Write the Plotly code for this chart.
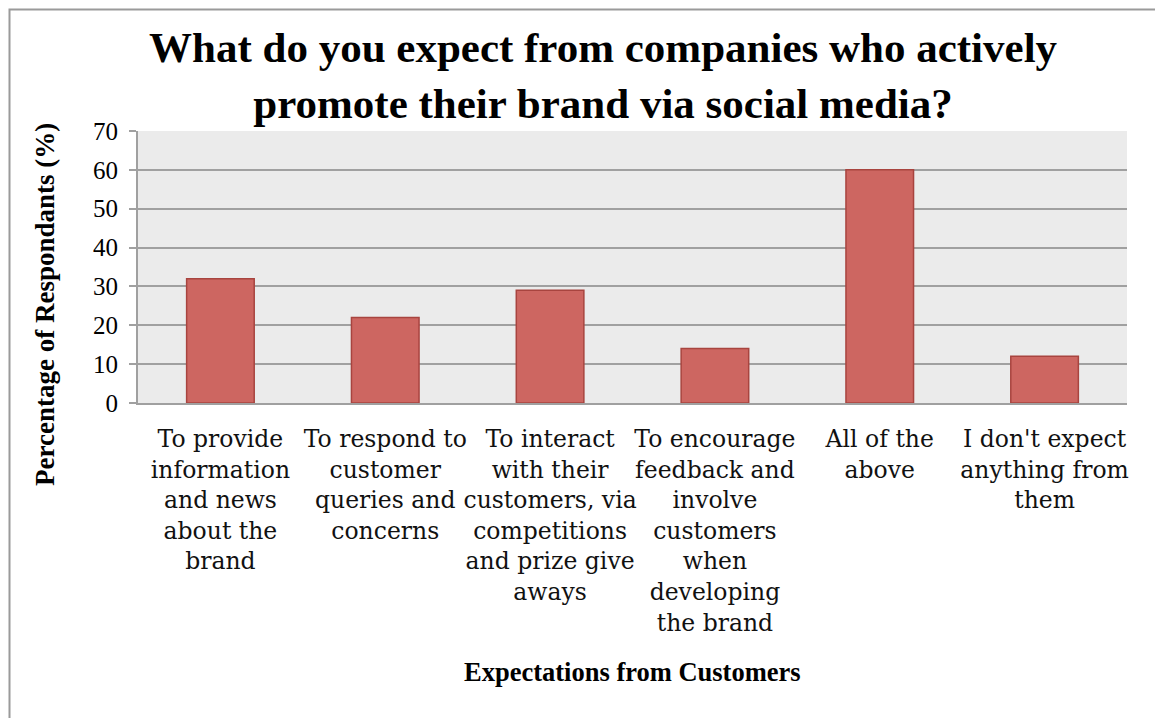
import plotly.graph_objects as go

# Survey responses: what people expect from brands active on social media
categories = [
    "To provide<br>information<br>and news<br>about the<br>brand",
    "To respond to<br>customer<br>queries and<br>concerns",
    "To interact<br>with their<br>customers, via<br>competitions<br>and prize give<br>aways",
    "To encourage<br>feedback and<br>involve<br>customers<br>when<br>developing<br>the brand",
    "All of the<br>above",
    "I don't expect<br>anything from<br>them",
]
percentages = [32, 22, 29, 14, 60, 12]
y_ticks = [0, 10, 20, 30, 40, 50, 60, 70]

W, H = 1155, 718
L, R, T, B = 138, 28, 131, 315
pw, ph = W - L - R, H - T - B

def px_x(x):
    return (x - L) / pw

def px_y(y):
    return (H - B - y) / ph

fig = go.Figure(
    go.Bar(
        x=categories,
        y=percentages,
        marker=dict(color="#CD6661", line=dict(color="#A8443F", width=1.5)),
        width=0.41,
    )
)

fig.update_layout(
    width=W,
    height=H,
    margin=dict(l=L, r=R, t=T, b=B),
    paper_bgcolor="white",
    plot_bgcolor="#EBEBEB",
    showlegend=False,
    font=dict(family="Liberation Serif", color="black"),
    annotations=[
        dict(
            text="<b>What do you expect from companies who actively<br>promote their brand via social media?</b>",
            x=px_x(603), y=px_y(75), xref="paper", yref="paper",
            xanchor="center", yanchor="middle", showarrow=False,
            font=dict(family="Liberation Serif", size=43, color="black"),
        ),
        dict(
            text="<b>Percentage of Respondants (%)</b>",
            x=px_x(45), y=px_y(305), xref="paper", yref="paper",
            xanchor="center", yanchor="middle", showarrow=False, textangle=-90,
            font=dict(family="Liberation Serif", size=27, color="black"),
        ),
        dict(
            text="<b>Expectations from Customers</b>",
            x=px_x(632), y=px_y(672), xref="paper", yref="paper",
            xanchor="center", yanchor="middle", showarrow=False,
            font=dict(family="Liberation Serif", size=26.5, color="black"),
        ),
    ],
    shapes=[
        dict(
            type="rect", xref="paper", yref="paper",
            x0=px_x(9.5), x1=px_x(W + 20), y0=px_y(H + 20), y1=px_y(9.5),
            line=dict(color="#9A9A9A", width=2), fillcolor="rgba(0,0,0,0)",
            layer="below",
        )
    ],
)

fig.update_xaxes(
    showgrid=False,
    showline=True,
    linecolor="#A0A0A0",
    linewidth=2,
    ticks="outside",
    ticklen=14,
    tickcolor="rgba(0,0,0,0)",
    tickangle=0,
    tickfont=dict(family="DejaVu Serif", size=23.5, color="#111"),
)
fig.update_yaxes(
    range=[0, 70],
    tickvals=y_ticks,
    showgrid=True,
    gridcolor="#A0A0A0",
    gridwidth=2,
    showline=True,
    linecolor="#A0A0A0",
    linewidth=2,
    ticks="outside",
    ticklen=7,
    tickcolor="#A0A0A0",
    tickwidth=2,
    ticklabelstandoff=6,
    tickfont=dict(family="Liberation Serif", size=25, color="black"),
    zeroline=False,
)

fig.write_html("out.html")
